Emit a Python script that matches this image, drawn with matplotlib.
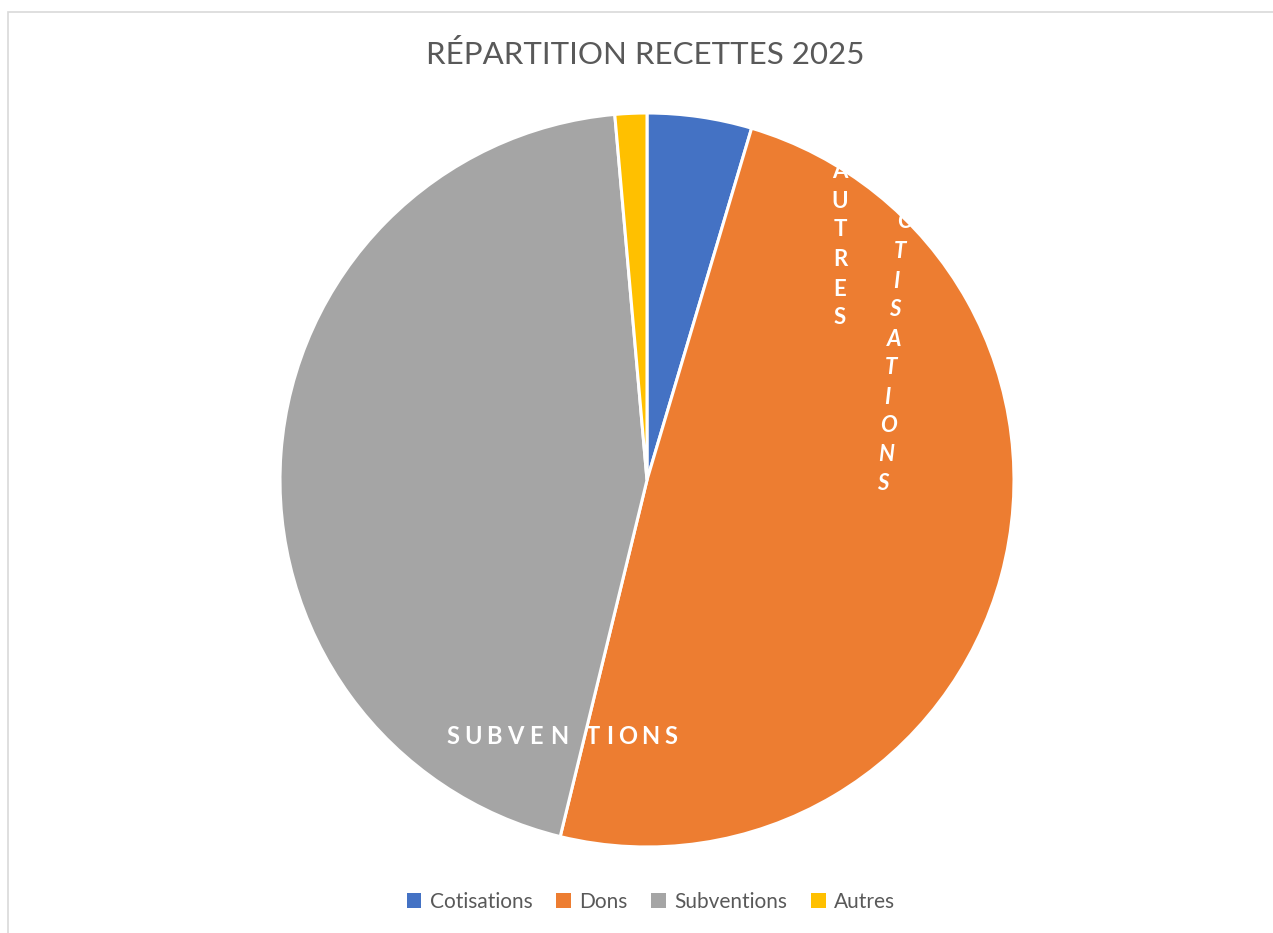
import matplotlib
matplotlib.use("Agg")
import matplotlib.pyplot as plt
from matplotlib.patches import Rectangle, Patch

categories = ["Cotisations", "Dons", "Subventions", "Autres"]
values = [4.6, 49.2, 44.8, 1.4]
colors = ["#4472C4", "#ED7D31", "#A5A5A5", "#FFC000"]
title = "RÉPARTITION RECETTES 2025"

W, H = 1273, 933
fig = plt.figure(figsize=(W / 100, H / 100), dpi=100)
fig.patch.set_facecolor("white")

FONT = ["Lato", "DejaVu Sans"]

# chart border (light grey, left and top visible)
fig.patches.append(Rectangle((8 / W, -0.05), 1.2, (H - 12) / H + 0.05,
                             transform=fig.transFigure, fill=False,
                             edgecolor="#d9d9d9", lw=1.2))

cx, cy, r = 647, 480, 367
ax = fig.add_axes([(cx - r) / W, (H - cy - r) / H, 2 * r / W, 2 * r / H])
ax.pie(values, colors=colors, startangle=90, counterclock=False, radius=1,
       wedgeprops=dict(edgecolor="white", linewidth=2.2))
ax.set_xlim(-1, 1)
ax.set_ylim(-1, 1)
ax.set_aspect("equal")
ax.axis("off")


def px(x, y):
    return (x - cx) / r, (cy - y) / r


def letters(word, xs, ys, **kw):
    for ch, x, y in zip(word, xs, ys):
        dx, dy = px(x, y)
        ax.text(dx, dy, ch, ha="center", va="center", color="white",
                family=FONT, fontweight="bold", **kw)


# Vertical "AUTRES"
letters("AUTRES", [840] * 6, [172, 201, 230, 260, 289, 318], fontsize=16)
# Vertical italic "COTISATIONS"
letters("COTISATIONS",
        [908, 905, 900, 896, 895, 894, 891, 887, 888, 886, 883],
        [193, 222, 251, 281, 310, 339, 368, 397, 426, 455, 484],
        fontsize=16, style="italic")
# Horizontal "SUBVENTIONS"
letters("SUBVENTIONS",
        [453, 473, 494, 515, 536, 559, 593, 610, 628, 650, 671],
        [736] * 11, fontsize=17)

fig.text(645 / W, 1 - 55 / H, title, ha="center", va="center",
         fontsize=22.5, color="#595959", family=FONT)

handles = [Patch(facecolor=c, edgecolor="none") for c in colors]
fig.legend(handles, categories, loc="center", bbox_to_anchor=(651 / W, 1 - 902 / H),
           ncol=4, frameon=False, prop={"family": FONT, "size": 15},
           labelcolor="#595959", handlelength=0.7, handleheight=0.7,
           handletextpad=0.4, columnspacing=1.15)

fig.savefig("out.png", dpi=100, facecolor="white")
